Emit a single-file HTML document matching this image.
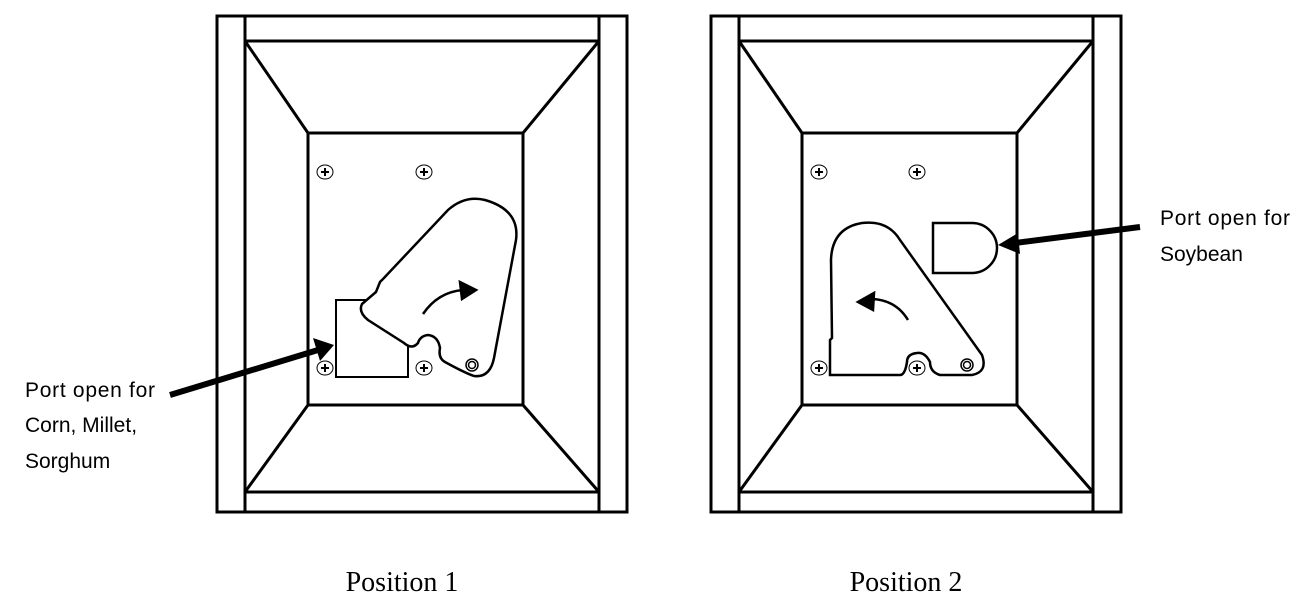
<!DOCTYPE html>
<html><head><style>body{margin:0;background:#fff}svg{display:block}</style></head><body>
<svg width="1295" height="600" viewBox="0 0 1295 600" xmlns="http://www.w3.org/2000/svg">
<defs>
<g id="box" fill="none" stroke="#000" stroke-width="3">
<rect x="217" y="16" width="410" height="496"/>
<line x1="245" y1="16" x2="245" y2="512"/>
<line x1="599" y1="16" x2="599" y2="512"/>
<line x1="245" y1="41" x2="599" y2="41"/>
<line x1="245" y1="492" x2="599" y2="492"/>
<rect x="308" y="133" width="215" height="272"/>
<line x1="245" y1="41" x2="308" y2="133"/>
<line x1="599" y1="41" x2="523" y2="133"/>
<line x1="245" y1="492" x2="308" y2="405"/>
<line x1="599" y1="492" x2="523" y2="405"/>
</g>
<g id="screw" fill="none" stroke="#000" stroke-width="1">
<ellipse cx="0" cy="0" rx="8" ry="7"/>
<path d="M-4 0H4M0 -4V4" stroke-width="2"/>
</g>
</defs>
<use href="#box"/>
<use href="#box" x="494"/>
<use href="#screw" x="325" y="172"/><use href="#screw" x="424" y="172"/>
<use href="#screw" x="325" y="368"/><use href="#screw" x="424" y="368"/>
<use href="#screw" x="819" y="172"/><use href="#screw" x="917" y="172"/>
<use href="#screw" x="819" y="368"/><use href="#screw" x="917" y="368"/>
<g fill="none" stroke="#000" stroke-width="2.5">
<rect x="336" y="300" width="72" height="77" fill="#fff" stroke-width="2"/>
<path fill="#fff" d="M362 304 L376 292 L380 282 L383 279 L448 210 Q465 195 485 200 Q520 210 516 240 L494 358 Q490 378 474 376 Q465 373 445 362 Q438 358 440 348 Q438 336 428 335 Q420 336 418 343 Q412 350 404 343 L368 320 Q358 312 362 304 Z"/>
<path d="M423 314 Q438 292 463 290"/>
<path d="M476 290 L460 282 L462 299 Z" fill="#000"/>
<circle cx="472" cy="365" r="6" stroke-width="1.5"/><circle cx="472" cy="365" r="3.5" stroke-width="1.5"/>
<path d="M933 223 H972 A25 25 0 0 1 972 273 H933 Z"/>
<path fill="#fff" d="M830 375 L830 340 L832 338 L831 260 Q832 228 862 223 Q888 220 900 240 L982 355 Q988 372 972 375 L940 375 Q930 372 930 362 Q925 352 917 353 Q907 354 907 362 Q905 375 900 375 Z"/>
<path d="M908 320 Q896 300 872 299"/>
<path d="M858 302 L874 293 L873 310 Z" fill="#000"/>
<circle cx="967" cy="365" r="6" stroke-width="1.5"/><circle cx="967" cy="365" r="3.5" stroke-width="1.5"/>
</g>
<g stroke="#000" stroke-width="6">
<line x1="170" y1="395" x2="318" y2="350"/>
<line x1="1140" y1="227" x2="1015" y2="243"/>
</g>
<path d="M334 345 L313 338 L320 361 Z" fill="#000"/>
<path d="M998 245 L1018 233 L1020 254 Z" fill="#000"/>
<g font-family="Liberation Sans, sans-serif" font-size="21" fill="#000">
<text x="25" y="397" textLength="130">Port open for</text>
<text x="25" y="432">Corn, Millet,</text>
<text x="25" y="468">Sorghum</text>
<text x="1160" y="225" textLength="130">Port open for</text>
<text x="1160" y="261">Soybean</text>
</g>
<g font-family="Liberation Serif, serif" font-size="28" fill="#000" text-anchor="middle">
<text x="402" y="591">Position 1</text>
<text x="906" y="591">Position 2</text>
</g>
</svg>
</body></html>
